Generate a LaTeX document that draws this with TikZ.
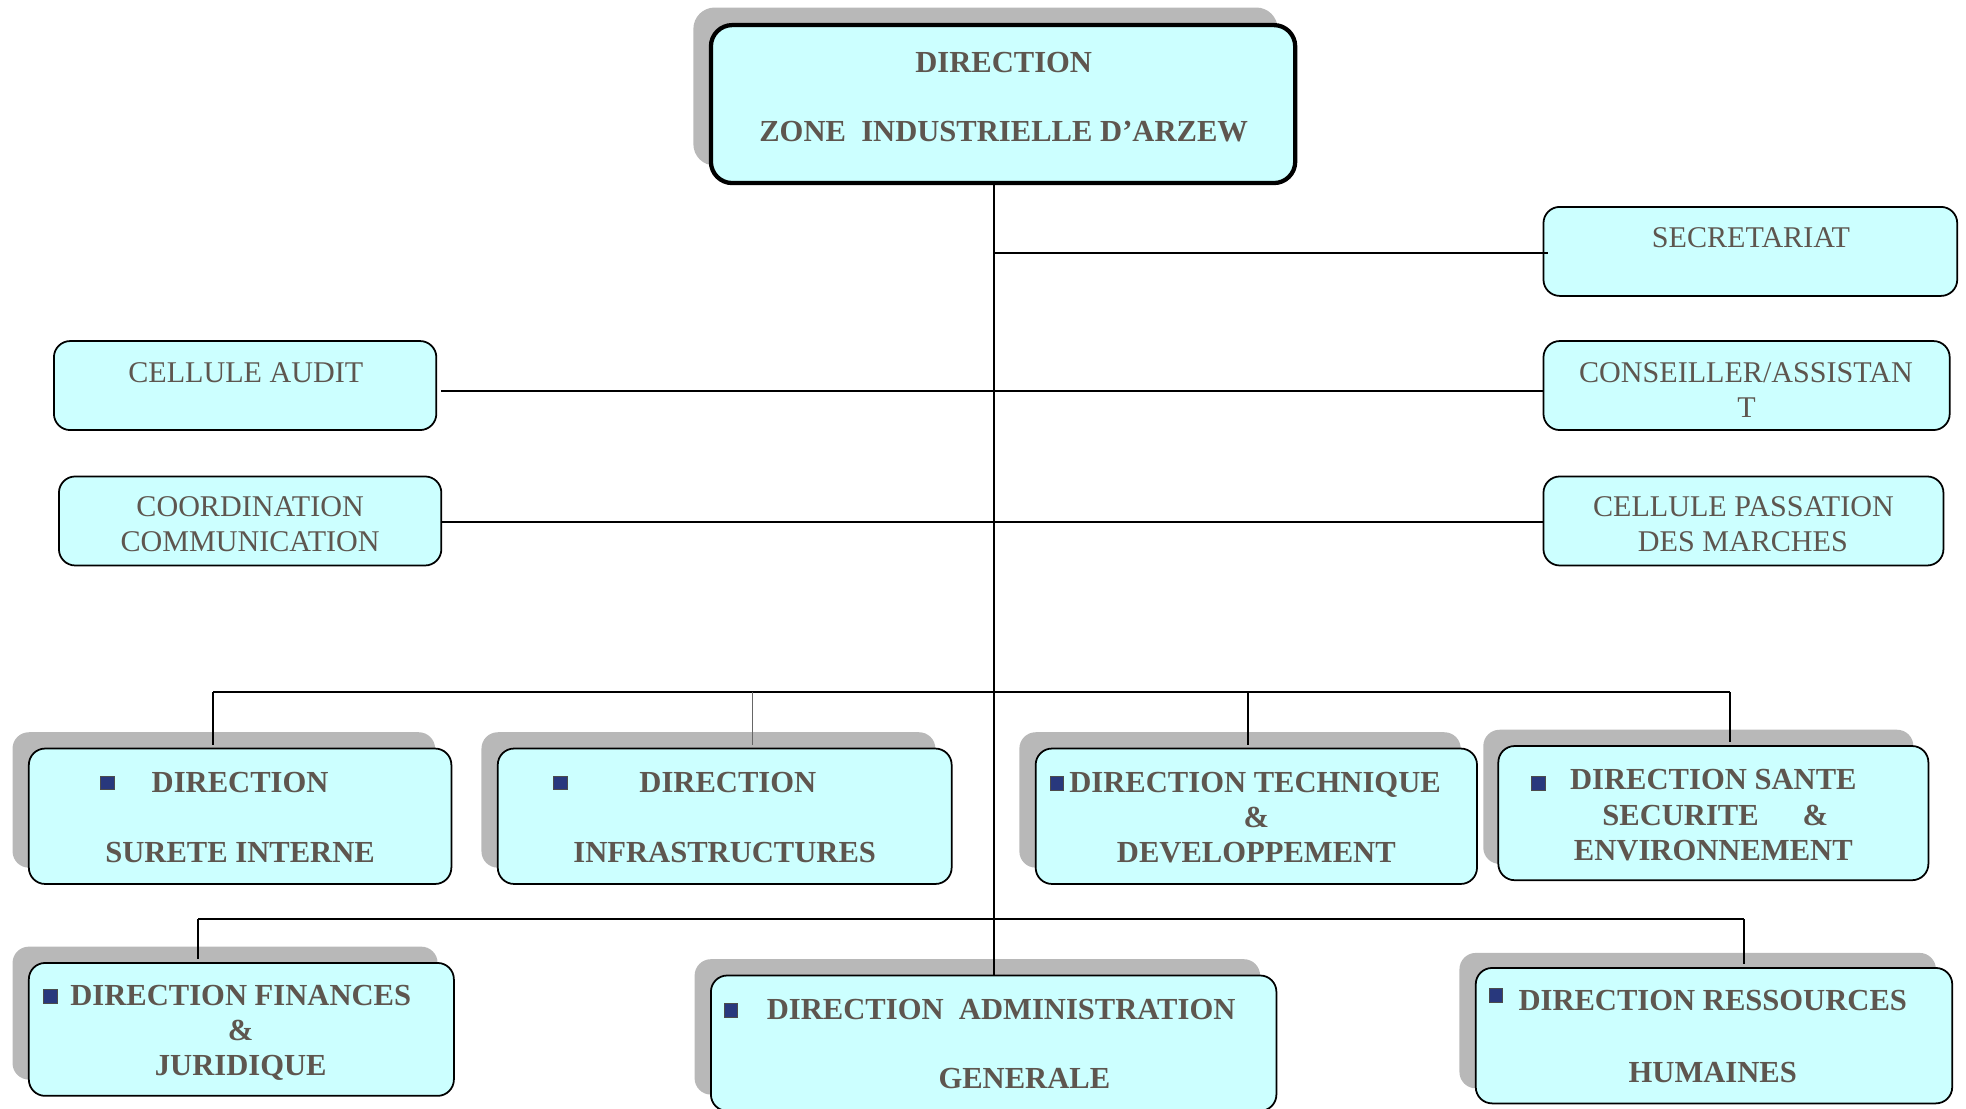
\documentclass[tikz,border=0pt]{standalone}
\usepackage{fontspec}
\setmainfont{Liberation Serif}
\usetikzlibrary{calc}
\definecolor{boxfill}{RGB}{204,255,255}
\definecolor{shadowgray}{RGB}{184,184,184}
\definecolor{txt}{RGB}{94,86,79}
\definecolor{bulletblue}{RGB}{40,56,125}
\begin{document}
\begin{tikzpicture}[x=1pt,y=-1pt,
  box/.style={draw=black, line width=1.4pt, fill=boxfill, rounded corners=13pt, inner sep=0pt, outer sep=0pt},
  topbox/.style={box, line width=3.4pt, rounded corners=17pt},
  shad/.style={fill=shadowgray, rounded corners=13pt},
  conn/.style={line width=1.5pt, draw=black},
  rt/.style={font=\fontsize{24}{28}\selectfont, text=txt, inner sep=0pt, anchor=base},
  bt/.style={rt, font=\fontsize{24.4}{28}\selectfont\bfseries},
  bul/.style={draw=gray!60!black, line width=0.7pt, fill=bulletblue, minimum size=11pt, inner sep=0pt},
]
\useasboundingbox (0,0) rectangle (1568,884);
% shadows
\fill[shad, rounded corners=17pt] (553,6) rectangle (1019,132);
\fill[shad] (10,584) rectangle (347,692);
\fill[shad] (384,584) rectangle (746,692);
\fill[shad] (813,584) rectangle (1165,692);
\fill[shad] (1183,582) rectangle (1526,689);
\fill[shad] (10,755) rectangle (349,861);
\fill[shad] (554,765) rectangle (1005,873);
\fill[shad] (1164,760) rectangle (1544,868);
% boxes
\node[topbox, minimum width=466pt, minimum height=126pt] (top) at (800,83) {};
\node[box, minimum width=330pt, minimum height=71pt] (sec) at (1396,200.5) {};
\node[box, minimum width=324pt, minimum height=71pt] (cons) at (1393,307.5) {};
\node[box, minimum width=305pt, minimum height=71pt] (aud) at (195.5,307.5) {};
\node[box, minimum width=305pt, minimum height=71pt] (coord) at (199.5,415.5) {};
\node[box, minimum width=319pt, minimum height=71pt] (pass) at (1390.5,415.5) {};
\node[box, minimum width=337pt, minimum height=108pt] (sur) at (191.5,651) {};
\node[box, minimum width=362pt, minimum height=108pt] (inf) at (578,651) {};
\node[box, minimum width=352pt, minimum height=108pt] (tech) at (1002,651) {};
\node[box, minimum width=343pt, minimum height=107pt] (sante) at (1366.5,648.5) {};
\node[box, minimum width=339pt, minimum height=106pt] (fin) at (192.5,821) {};
\node[box, minimum width=451pt, minimum height=108pt] (adm) at (792.5,832) {};
\node[box, minimum width=380pt, minimum height=108pt] (rh) at (1367,826) {};
% connector coordinates
\coordinate (yA) at (0,312);
\coordinate (yB) at (0,416);
\coordinate (ySec) at (0,202);
\coordinate (b1) at (170,552);
\coordinate (b2) at (600,552);
\coordinate (b3) at (995,552);
\coordinate (b4) at (1380,552);
\coordinate (c1) at (158,733);
\coordinate (c2) at (1391,733);
% connectors
\draw[conn] (adm.north |- top.south) -- (adm.north);
\draw[conn] (adm.north |- ySec) -- ($(sec.west |- ySec)+(4,0)$);
\draw[conn] ($(aud.east |- yA)+(4,0)$) -- (cons.west |- yA);
\draw[conn] (coord.east |- yB) -- (pass.west |- yB);
\draw[conn] (b1) -- (b4);
\draw[conn] (b1) -- ($(b1 |- sur.north)+(0,-3)$);
\draw[line width=1pt, draw=gray!80!black] (b2) -- ($(b2 |- inf.north)+(0,-3)$);
\draw[conn] (b3) -- ($(b3 |- tech.north)+(0,-3)$);
\draw[conn] (b4) -- ($(b4 |- sante.north)+(0,-3)$);
\draw[conn] (c1) -- (c2);
\draw[conn] (c1) -- ($(c1 |- fin.north)+(0,-3)$);
\draw[conn] (c2) -- ($(c2 |- rh.north)+(0,-3)$);
% texts
\node[bt] (top1) at (800.5,58) {DIRECTION};
\node[bt] (top2) at (800.5,113) {ZONE~ INDUSTRIELLE D’ARZEW};
\node[rt] (sec1) at (1396.5,197) {SECRETARIAT};
\node[rt] (cons1) at (1392.5,305) {CONSEILLER/ASSISTAN};
\node[rt] (cons2) at (1393,333) {T};
\node[rt] (aud1) at (196,305) {CELLULE AUDIT};
\node[rt] (coord1) at (199.5,412) {COORDINATION};
\node[rt] (coord2) at (199.5,440) {COMMUNICATION};
\node[rt] (pass1) at (1390.5,412) {CELLULE PASSATION};
\node[rt] (pass2) at (1390,440) {DES MARCHES};
\node[bt] (sur1) at (191.5,632) {DIRECTION};
\node[bt] (sur2) at (191.5,688) {SURETE INTERNE};
\node[bt] (inf1) at (580.5,632) {DIRECTION};
\node[bt] (inf2) at (578,688) {INFRASTRUCTURES};
\node[bt] (tech1) at (1001,632) {DIRECTION TECHNIQUE};
\node[bt] (tech2) at (1002,660) {\&};
\node[bt] (tech3) at (1002,688) {DEVELOPPEMENT};
\node[bt] (sante1) at (1366.5,630) {DIRECTION SANTE};
\node[bt] (sante2) at (1368,658) {SECURITE\hspace{35pt}\&};
\node[bt] (sante3) at (1366.5,686) {ENVIRONNEMENT};
\node[bt] (fin1) at (192,802) {DIRECTION FINANCES};
\node[bt] (fin2) at (192,830) {\&};
\node[bt] (fin3) at (192,858) {JURIDIQUE};
\node[bt] (adm1) at (798.5,813) {DIRECTION~ ADMINISTRATION};
\node[bt] (adm2) at (817,868) {GENERALE};
\node[bt] (rh1) at (1366,806) {DIRECTION RESSOURCES};
\node[bt] (rh2) at (1366,863) {HUMAINES};
% bullets
\node[bul] (bsur) at (85.5,624.5) {};
\node[bul] (binf) at (447,624.5) {};
\node[bul] (btech) at (843,625) {};
\node[bul] (bsante) at (1227,625) {};
\node[bul] (bfin) at (40,795) {};
\node[bul] (badm) at (583,806) {};
\node[bul] (brh) at (1193,794) {};
\end{tikzpicture}
\end{document}
